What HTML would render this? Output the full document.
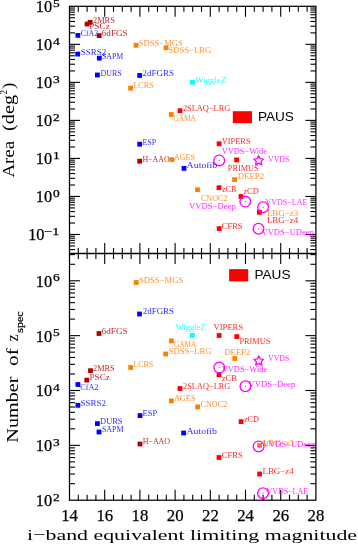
<!DOCTYPE html>
<html><head><meta charset="utf-8"><style>
html,body{margin:0;padding:0;background:#fff;width:358px;height:544px;overflow:hidden}
svg{display:block;will-change:transform}
text{font-family:"Liberation Serif",serif}
.sans{font-family:"Liberation Sans",sans-serif}
.bold{stroke:#000;stroke-width:0.25px}
</style></head><body>
<svg width="358" height="544" viewBox="0 0 358 544">
<rect width="358" height="544" fill="#fff"/>
<rect x="69.50" y="6.30" width="246.40" height="247.20" fill="none" stroke="#000" stroke-width="1.25"/>
<rect x="69.50" y="253.50" width="246.40" height="246.70" fill="none" stroke="#000" stroke-width="1.25"/>
<line x1="78.30" y1="6.30" x2="78.30" y2="11.80" stroke="#000" stroke-width="1.1"/>
<line x1="78.30" y1="253.50" x2="78.30" y2="248.00" stroke="#000" stroke-width="1.1"/>
<line x1="78.30" y1="253.50" x2="78.30" y2="259.00" stroke="#000" stroke-width="1.1"/>
<line x1="78.30" y1="500.20" x2="78.30" y2="494.70" stroke="#000" stroke-width="1.1"/>
<line x1="87.10" y1="6.30" x2="87.10" y2="11.80" stroke="#000" stroke-width="1.1"/>
<line x1="87.10" y1="253.50" x2="87.10" y2="248.00" stroke="#000" stroke-width="1.1"/>
<line x1="87.10" y1="253.50" x2="87.10" y2="259.00" stroke="#000" stroke-width="1.1"/>
<line x1="87.10" y1="500.20" x2="87.10" y2="494.70" stroke="#000" stroke-width="1.1"/>
<line x1="95.90" y1="6.30" x2="95.90" y2="11.80" stroke="#000" stroke-width="1.1"/>
<line x1="95.90" y1="253.50" x2="95.90" y2="248.00" stroke="#000" stroke-width="1.1"/>
<line x1="95.90" y1="253.50" x2="95.90" y2="259.00" stroke="#000" stroke-width="1.1"/>
<line x1="95.90" y1="500.20" x2="95.90" y2="494.70" stroke="#000" stroke-width="1.1"/>
<line x1="104.70" y1="6.30" x2="104.70" y2="16.80" stroke="#000" stroke-width="1.1"/>
<line x1="104.70" y1="253.50" x2="104.70" y2="243.00" stroke="#000" stroke-width="1.1"/>
<line x1="104.70" y1="253.50" x2="104.70" y2="264.00" stroke="#000" stroke-width="1.1"/>
<line x1="104.70" y1="500.20" x2="104.70" y2="489.70" stroke="#000" stroke-width="1.1"/>
<line x1="113.50" y1="6.30" x2="113.50" y2="11.80" stroke="#000" stroke-width="1.1"/>
<line x1="113.50" y1="253.50" x2="113.50" y2="248.00" stroke="#000" stroke-width="1.1"/>
<line x1="113.50" y1="253.50" x2="113.50" y2="259.00" stroke="#000" stroke-width="1.1"/>
<line x1="113.50" y1="500.20" x2="113.50" y2="494.70" stroke="#000" stroke-width="1.1"/>
<line x1="122.30" y1="6.30" x2="122.30" y2="11.80" stroke="#000" stroke-width="1.1"/>
<line x1="122.30" y1="253.50" x2="122.30" y2="248.00" stroke="#000" stroke-width="1.1"/>
<line x1="122.30" y1="253.50" x2="122.30" y2="259.00" stroke="#000" stroke-width="1.1"/>
<line x1="122.30" y1="500.20" x2="122.30" y2="494.70" stroke="#000" stroke-width="1.1"/>
<line x1="131.10" y1="6.30" x2="131.10" y2="11.80" stroke="#000" stroke-width="1.1"/>
<line x1="131.10" y1="253.50" x2="131.10" y2="248.00" stroke="#000" stroke-width="1.1"/>
<line x1="131.10" y1="253.50" x2="131.10" y2="259.00" stroke="#000" stroke-width="1.1"/>
<line x1="131.10" y1="500.20" x2="131.10" y2="494.70" stroke="#000" stroke-width="1.1"/>
<line x1="139.90" y1="6.30" x2="139.90" y2="16.80" stroke="#000" stroke-width="1.1"/>
<line x1="139.90" y1="253.50" x2="139.90" y2="243.00" stroke="#000" stroke-width="1.1"/>
<line x1="139.90" y1="253.50" x2="139.90" y2="264.00" stroke="#000" stroke-width="1.1"/>
<line x1="139.90" y1="500.20" x2="139.90" y2="489.70" stroke="#000" stroke-width="1.1"/>
<line x1="148.70" y1="6.30" x2="148.70" y2="11.80" stroke="#000" stroke-width="1.1"/>
<line x1="148.70" y1="253.50" x2="148.70" y2="248.00" stroke="#000" stroke-width="1.1"/>
<line x1="148.70" y1="253.50" x2="148.70" y2="259.00" stroke="#000" stroke-width="1.1"/>
<line x1="148.70" y1="500.20" x2="148.70" y2="494.70" stroke="#000" stroke-width="1.1"/>
<line x1="157.50" y1="6.30" x2="157.50" y2="11.80" stroke="#000" stroke-width="1.1"/>
<line x1="157.50" y1="253.50" x2="157.50" y2="248.00" stroke="#000" stroke-width="1.1"/>
<line x1="157.50" y1="253.50" x2="157.50" y2="259.00" stroke="#000" stroke-width="1.1"/>
<line x1="157.50" y1="500.20" x2="157.50" y2="494.70" stroke="#000" stroke-width="1.1"/>
<line x1="166.30" y1="6.30" x2="166.30" y2="11.80" stroke="#000" stroke-width="1.1"/>
<line x1="166.30" y1="253.50" x2="166.30" y2="248.00" stroke="#000" stroke-width="1.1"/>
<line x1="166.30" y1="253.50" x2="166.30" y2="259.00" stroke="#000" stroke-width="1.1"/>
<line x1="166.30" y1="500.20" x2="166.30" y2="494.70" stroke="#000" stroke-width="1.1"/>
<line x1="175.10" y1="6.30" x2="175.10" y2="16.80" stroke="#000" stroke-width="1.1"/>
<line x1="175.10" y1="253.50" x2="175.10" y2="243.00" stroke="#000" stroke-width="1.1"/>
<line x1="175.10" y1="253.50" x2="175.10" y2="264.00" stroke="#000" stroke-width="1.1"/>
<line x1="175.10" y1="500.20" x2="175.10" y2="489.70" stroke="#000" stroke-width="1.1"/>
<line x1="183.90" y1="6.30" x2="183.90" y2="11.80" stroke="#000" stroke-width="1.1"/>
<line x1="183.90" y1="253.50" x2="183.90" y2="248.00" stroke="#000" stroke-width="1.1"/>
<line x1="183.90" y1="253.50" x2="183.90" y2="259.00" stroke="#000" stroke-width="1.1"/>
<line x1="183.90" y1="500.20" x2="183.90" y2="494.70" stroke="#000" stroke-width="1.1"/>
<line x1="192.70" y1="6.30" x2="192.70" y2="11.80" stroke="#000" stroke-width="1.1"/>
<line x1="192.70" y1="253.50" x2="192.70" y2="248.00" stroke="#000" stroke-width="1.1"/>
<line x1="192.70" y1="253.50" x2="192.70" y2="259.00" stroke="#000" stroke-width="1.1"/>
<line x1="192.70" y1="500.20" x2="192.70" y2="494.70" stroke="#000" stroke-width="1.1"/>
<line x1="201.50" y1="6.30" x2="201.50" y2="11.80" stroke="#000" stroke-width="1.1"/>
<line x1="201.50" y1="253.50" x2="201.50" y2="248.00" stroke="#000" stroke-width="1.1"/>
<line x1="201.50" y1="253.50" x2="201.50" y2="259.00" stroke="#000" stroke-width="1.1"/>
<line x1="201.50" y1="500.20" x2="201.50" y2="494.70" stroke="#000" stroke-width="1.1"/>
<line x1="210.30" y1="6.30" x2="210.30" y2="16.80" stroke="#000" stroke-width="1.1"/>
<line x1="210.30" y1="253.50" x2="210.30" y2="243.00" stroke="#000" stroke-width="1.1"/>
<line x1="210.30" y1="253.50" x2="210.30" y2="264.00" stroke="#000" stroke-width="1.1"/>
<line x1="210.30" y1="500.20" x2="210.30" y2="489.70" stroke="#000" stroke-width="1.1"/>
<line x1="219.10" y1="6.30" x2="219.10" y2="11.80" stroke="#000" stroke-width="1.1"/>
<line x1="219.10" y1="253.50" x2="219.10" y2="248.00" stroke="#000" stroke-width="1.1"/>
<line x1="219.10" y1="253.50" x2="219.10" y2="259.00" stroke="#000" stroke-width="1.1"/>
<line x1="219.10" y1="500.20" x2="219.10" y2="494.70" stroke="#000" stroke-width="1.1"/>
<line x1="227.90" y1="6.30" x2="227.90" y2="11.80" stroke="#000" stroke-width="1.1"/>
<line x1="227.90" y1="253.50" x2="227.90" y2="248.00" stroke="#000" stroke-width="1.1"/>
<line x1="227.90" y1="253.50" x2="227.90" y2="259.00" stroke="#000" stroke-width="1.1"/>
<line x1="227.90" y1="500.20" x2="227.90" y2="494.70" stroke="#000" stroke-width="1.1"/>
<line x1="236.70" y1="6.30" x2="236.70" y2="11.80" stroke="#000" stroke-width="1.1"/>
<line x1="236.70" y1="253.50" x2="236.70" y2="248.00" stroke="#000" stroke-width="1.1"/>
<line x1="236.70" y1="253.50" x2="236.70" y2="259.00" stroke="#000" stroke-width="1.1"/>
<line x1="236.70" y1="500.20" x2="236.70" y2="494.70" stroke="#000" stroke-width="1.1"/>
<line x1="245.50" y1="6.30" x2="245.50" y2="16.80" stroke="#000" stroke-width="1.1"/>
<line x1="245.50" y1="253.50" x2="245.50" y2="243.00" stroke="#000" stroke-width="1.1"/>
<line x1="245.50" y1="253.50" x2="245.50" y2="264.00" stroke="#000" stroke-width="1.1"/>
<line x1="245.50" y1="500.20" x2="245.50" y2="489.70" stroke="#000" stroke-width="1.1"/>
<line x1="254.30" y1="6.30" x2="254.30" y2="11.80" stroke="#000" stroke-width="1.1"/>
<line x1="254.30" y1="253.50" x2="254.30" y2="248.00" stroke="#000" stroke-width="1.1"/>
<line x1="254.30" y1="253.50" x2="254.30" y2="259.00" stroke="#000" stroke-width="1.1"/>
<line x1="254.30" y1="500.20" x2="254.30" y2="494.70" stroke="#000" stroke-width="1.1"/>
<line x1="263.10" y1="6.30" x2="263.10" y2="11.80" stroke="#000" stroke-width="1.1"/>
<line x1="263.10" y1="253.50" x2="263.10" y2="248.00" stroke="#000" stroke-width="1.1"/>
<line x1="263.10" y1="253.50" x2="263.10" y2="259.00" stroke="#000" stroke-width="1.1"/>
<line x1="263.10" y1="500.20" x2="263.10" y2="494.70" stroke="#000" stroke-width="1.1"/>
<line x1="271.90" y1="6.30" x2="271.90" y2="11.80" stroke="#000" stroke-width="1.1"/>
<line x1="271.90" y1="253.50" x2="271.90" y2="248.00" stroke="#000" stroke-width="1.1"/>
<line x1="271.90" y1="253.50" x2="271.90" y2="259.00" stroke="#000" stroke-width="1.1"/>
<line x1="271.90" y1="500.20" x2="271.90" y2="494.70" stroke="#000" stroke-width="1.1"/>
<line x1="280.70" y1="6.30" x2="280.70" y2="16.80" stroke="#000" stroke-width="1.1"/>
<line x1="280.70" y1="253.50" x2="280.70" y2="243.00" stroke="#000" stroke-width="1.1"/>
<line x1="280.70" y1="253.50" x2="280.70" y2="264.00" stroke="#000" stroke-width="1.1"/>
<line x1="280.70" y1="500.20" x2="280.70" y2="489.70" stroke="#000" stroke-width="1.1"/>
<line x1="289.50" y1="6.30" x2="289.50" y2="11.80" stroke="#000" stroke-width="1.1"/>
<line x1="289.50" y1="253.50" x2="289.50" y2="248.00" stroke="#000" stroke-width="1.1"/>
<line x1="289.50" y1="253.50" x2="289.50" y2="259.00" stroke="#000" stroke-width="1.1"/>
<line x1="289.50" y1="500.20" x2="289.50" y2="494.70" stroke="#000" stroke-width="1.1"/>
<line x1="298.30" y1="6.30" x2="298.30" y2="11.80" stroke="#000" stroke-width="1.1"/>
<line x1="298.30" y1="253.50" x2="298.30" y2="248.00" stroke="#000" stroke-width="1.1"/>
<line x1="298.30" y1="253.50" x2="298.30" y2="259.00" stroke="#000" stroke-width="1.1"/>
<line x1="298.30" y1="500.20" x2="298.30" y2="494.70" stroke="#000" stroke-width="1.1"/>
<line x1="307.10" y1="6.30" x2="307.10" y2="11.80" stroke="#000" stroke-width="1.1"/>
<line x1="307.10" y1="253.50" x2="307.10" y2="248.00" stroke="#000" stroke-width="1.1"/>
<line x1="307.10" y1="253.50" x2="307.10" y2="259.00" stroke="#000" stroke-width="1.1"/>
<line x1="307.10" y1="500.20" x2="307.10" y2="494.70" stroke="#000" stroke-width="1.1"/>
<line x1="69.50" y1="249.61" x2="75.00" y2="249.61" stroke="#000" stroke-width="1.1"/>
<line x1="315.90" y1="249.61" x2="310.40" y2="249.61" stroke="#000" stroke-width="1.1"/>
<line x1="69.50" y1="245.93" x2="75.00" y2="245.93" stroke="#000" stroke-width="1.1"/>
<line x1="315.90" y1="245.93" x2="310.40" y2="245.93" stroke="#000" stroke-width="1.1"/>
<line x1="69.50" y1="242.92" x2="75.00" y2="242.92" stroke="#000" stroke-width="1.1"/>
<line x1="315.90" y1="242.92" x2="310.40" y2="242.92" stroke="#000" stroke-width="1.1"/>
<line x1="69.50" y1="240.37" x2="75.00" y2="240.37" stroke="#000" stroke-width="1.1"/>
<line x1="315.90" y1="240.37" x2="310.40" y2="240.37" stroke="#000" stroke-width="1.1"/>
<line x1="69.50" y1="238.17" x2="75.00" y2="238.17" stroke="#000" stroke-width="1.1"/>
<line x1="315.90" y1="238.17" x2="310.40" y2="238.17" stroke="#000" stroke-width="1.1"/>
<line x1="69.50" y1="236.22" x2="75.00" y2="236.22" stroke="#000" stroke-width="1.1"/>
<line x1="315.90" y1="236.22" x2="310.40" y2="236.22" stroke="#000" stroke-width="1.1"/>
<line x1="69.50" y1="234.48" x2="80.00" y2="234.48" stroke="#000" stroke-width="1.1"/>
<line x1="315.90" y1="234.48" x2="305.40" y2="234.48" stroke="#000" stroke-width="1.1"/>
<line x1="69.50" y1="223.03" x2="75.00" y2="223.03" stroke="#000" stroke-width="1.1"/>
<line x1="315.90" y1="223.03" x2="310.40" y2="223.03" stroke="#000" stroke-width="1.1"/>
<line x1="69.50" y1="216.34" x2="75.00" y2="216.34" stroke="#000" stroke-width="1.1"/>
<line x1="315.90" y1="216.34" x2="310.40" y2="216.34" stroke="#000" stroke-width="1.1"/>
<line x1="69.50" y1="211.58" x2="75.00" y2="211.58" stroke="#000" stroke-width="1.1"/>
<line x1="315.90" y1="211.58" x2="310.40" y2="211.58" stroke="#000" stroke-width="1.1"/>
<line x1="69.50" y1="207.90" x2="75.00" y2="207.90" stroke="#000" stroke-width="1.1"/>
<line x1="315.90" y1="207.90" x2="310.40" y2="207.90" stroke="#000" stroke-width="1.1"/>
<line x1="69.50" y1="204.89" x2="75.00" y2="204.89" stroke="#000" stroke-width="1.1"/>
<line x1="315.90" y1="204.89" x2="310.40" y2="204.89" stroke="#000" stroke-width="1.1"/>
<line x1="69.50" y1="202.34" x2="75.00" y2="202.34" stroke="#000" stroke-width="1.1"/>
<line x1="315.90" y1="202.34" x2="310.40" y2="202.34" stroke="#000" stroke-width="1.1"/>
<line x1="69.50" y1="200.14" x2="75.00" y2="200.14" stroke="#000" stroke-width="1.1"/>
<line x1="315.90" y1="200.14" x2="310.40" y2="200.14" stroke="#000" stroke-width="1.1"/>
<line x1="69.50" y1="198.19" x2="75.00" y2="198.19" stroke="#000" stroke-width="1.1"/>
<line x1="315.90" y1="198.19" x2="310.40" y2="198.19" stroke="#000" stroke-width="1.1"/>
<line x1="69.50" y1="196.45" x2="80.00" y2="196.45" stroke="#000" stroke-width="1.1"/>
<line x1="315.90" y1="196.45" x2="305.40" y2="196.45" stroke="#000" stroke-width="1.1"/>
<line x1="69.50" y1="185.00" x2="75.00" y2="185.00" stroke="#000" stroke-width="1.1"/>
<line x1="315.90" y1="185.00" x2="310.40" y2="185.00" stroke="#000" stroke-width="1.1"/>
<line x1="69.50" y1="178.31" x2="75.00" y2="178.31" stroke="#000" stroke-width="1.1"/>
<line x1="315.90" y1="178.31" x2="310.40" y2="178.31" stroke="#000" stroke-width="1.1"/>
<line x1="69.50" y1="173.55" x2="75.00" y2="173.55" stroke="#000" stroke-width="1.1"/>
<line x1="315.90" y1="173.55" x2="310.40" y2="173.55" stroke="#000" stroke-width="1.1"/>
<line x1="69.50" y1="169.87" x2="75.00" y2="169.87" stroke="#000" stroke-width="1.1"/>
<line x1="315.90" y1="169.87" x2="310.40" y2="169.87" stroke="#000" stroke-width="1.1"/>
<line x1="69.50" y1="166.86" x2="75.00" y2="166.86" stroke="#000" stroke-width="1.1"/>
<line x1="315.90" y1="166.86" x2="310.40" y2="166.86" stroke="#000" stroke-width="1.1"/>
<line x1="69.50" y1="164.31" x2="75.00" y2="164.31" stroke="#000" stroke-width="1.1"/>
<line x1="315.90" y1="164.31" x2="310.40" y2="164.31" stroke="#000" stroke-width="1.1"/>
<line x1="69.50" y1="162.11" x2="75.00" y2="162.11" stroke="#000" stroke-width="1.1"/>
<line x1="315.90" y1="162.11" x2="310.40" y2="162.11" stroke="#000" stroke-width="1.1"/>
<line x1="69.50" y1="160.16" x2="75.00" y2="160.16" stroke="#000" stroke-width="1.1"/>
<line x1="315.90" y1="160.16" x2="310.40" y2="160.16" stroke="#000" stroke-width="1.1"/>
<line x1="69.50" y1="158.42" x2="80.00" y2="158.42" stroke="#000" stroke-width="1.1"/>
<line x1="315.90" y1="158.42" x2="305.40" y2="158.42" stroke="#000" stroke-width="1.1"/>
<line x1="69.50" y1="146.97" x2="75.00" y2="146.97" stroke="#000" stroke-width="1.1"/>
<line x1="315.90" y1="146.97" x2="310.40" y2="146.97" stroke="#000" stroke-width="1.1"/>
<line x1="69.50" y1="140.28" x2="75.00" y2="140.28" stroke="#000" stroke-width="1.1"/>
<line x1="315.90" y1="140.28" x2="310.40" y2="140.28" stroke="#000" stroke-width="1.1"/>
<line x1="69.50" y1="135.52" x2="75.00" y2="135.52" stroke="#000" stroke-width="1.1"/>
<line x1="315.90" y1="135.52" x2="310.40" y2="135.52" stroke="#000" stroke-width="1.1"/>
<line x1="69.50" y1="131.84" x2="75.00" y2="131.84" stroke="#000" stroke-width="1.1"/>
<line x1="315.90" y1="131.84" x2="310.40" y2="131.84" stroke="#000" stroke-width="1.1"/>
<line x1="69.50" y1="128.83" x2="75.00" y2="128.83" stroke="#000" stroke-width="1.1"/>
<line x1="315.90" y1="128.83" x2="310.40" y2="128.83" stroke="#000" stroke-width="1.1"/>
<line x1="69.50" y1="126.28" x2="75.00" y2="126.28" stroke="#000" stroke-width="1.1"/>
<line x1="315.90" y1="126.28" x2="310.40" y2="126.28" stroke="#000" stroke-width="1.1"/>
<line x1="69.50" y1="124.08" x2="75.00" y2="124.08" stroke="#000" stroke-width="1.1"/>
<line x1="315.90" y1="124.08" x2="310.40" y2="124.08" stroke="#000" stroke-width="1.1"/>
<line x1="69.50" y1="122.13" x2="75.00" y2="122.13" stroke="#000" stroke-width="1.1"/>
<line x1="315.90" y1="122.13" x2="310.40" y2="122.13" stroke="#000" stroke-width="1.1"/>
<line x1="69.50" y1="120.39" x2="80.00" y2="120.39" stroke="#000" stroke-width="1.1"/>
<line x1="315.90" y1="120.39" x2="305.40" y2="120.39" stroke="#000" stroke-width="1.1"/>
<line x1="69.50" y1="108.94" x2="75.00" y2="108.94" stroke="#000" stroke-width="1.1"/>
<line x1="315.90" y1="108.94" x2="310.40" y2="108.94" stroke="#000" stroke-width="1.1"/>
<line x1="69.50" y1="102.25" x2="75.00" y2="102.25" stroke="#000" stroke-width="1.1"/>
<line x1="315.90" y1="102.25" x2="310.40" y2="102.25" stroke="#000" stroke-width="1.1"/>
<line x1="69.50" y1="97.49" x2="75.00" y2="97.49" stroke="#000" stroke-width="1.1"/>
<line x1="315.90" y1="97.49" x2="310.40" y2="97.49" stroke="#000" stroke-width="1.1"/>
<line x1="69.50" y1="93.81" x2="75.00" y2="93.81" stroke="#000" stroke-width="1.1"/>
<line x1="315.90" y1="93.81" x2="310.40" y2="93.81" stroke="#000" stroke-width="1.1"/>
<line x1="69.50" y1="90.80" x2="75.00" y2="90.80" stroke="#000" stroke-width="1.1"/>
<line x1="315.90" y1="90.80" x2="310.40" y2="90.80" stroke="#000" stroke-width="1.1"/>
<line x1="69.50" y1="88.25" x2="75.00" y2="88.25" stroke="#000" stroke-width="1.1"/>
<line x1="315.90" y1="88.25" x2="310.40" y2="88.25" stroke="#000" stroke-width="1.1"/>
<line x1="69.50" y1="86.05" x2="75.00" y2="86.05" stroke="#000" stroke-width="1.1"/>
<line x1="315.90" y1="86.05" x2="310.40" y2="86.05" stroke="#000" stroke-width="1.1"/>
<line x1="69.50" y1="84.10" x2="75.00" y2="84.10" stroke="#000" stroke-width="1.1"/>
<line x1="315.90" y1="84.10" x2="310.40" y2="84.10" stroke="#000" stroke-width="1.1"/>
<line x1="69.50" y1="82.36" x2="80.00" y2="82.36" stroke="#000" stroke-width="1.1"/>
<line x1="315.90" y1="82.36" x2="305.40" y2="82.36" stroke="#000" stroke-width="1.1"/>
<line x1="69.50" y1="70.91" x2="75.00" y2="70.91" stroke="#000" stroke-width="1.1"/>
<line x1="315.90" y1="70.91" x2="310.40" y2="70.91" stroke="#000" stroke-width="1.1"/>
<line x1="69.50" y1="64.22" x2="75.00" y2="64.22" stroke="#000" stroke-width="1.1"/>
<line x1="315.90" y1="64.22" x2="310.40" y2="64.22" stroke="#000" stroke-width="1.1"/>
<line x1="69.50" y1="59.46" x2="75.00" y2="59.46" stroke="#000" stroke-width="1.1"/>
<line x1="315.90" y1="59.46" x2="310.40" y2="59.46" stroke="#000" stroke-width="1.1"/>
<line x1="69.50" y1="55.78" x2="75.00" y2="55.78" stroke="#000" stroke-width="1.1"/>
<line x1="315.90" y1="55.78" x2="310.40" y2="55.78" stroke="#000" stroke-width="1.1"/>
<line x1="69.50" y1="52.77" x2="75.00" y2="52.77" stroke="#000" stroke-width="1.1"/>
<line x1="315.90" y1="52.77" x2="310.40" y2="52.77" stroke="#000" stroke-width="1.1"/>
<line x1="69.50" y1="50.22" x2="75.00" y2="50.22" stroke="#000" stroke-width="1.1"/>
<line x1="315.90" y1="50.22" x2="310.40" y2="50.22" stroke="#000" stroke-width="1.1"/>
<line x1="69.50" y1="48.02" x2="75.00" y2="48.02" stroke="#000" stroke-width="1.1"/>
<line x1="315.90" y1="48.02" x2="310.40" y2="48.02" stroke="#000" stroke-width="1.1"/>
<line x1="69.50" y1="46.07" x2="75.00" y2="46.07" stroke="#000" stroke-width="1.1"/>
<line x1="315.90" y1="46.07" x2="310.40" y2="46.07" stroke="#000" stroke-width="1.1"/>
<line x1="69.50" y1="44.33" x2="80.00" y2="44.33" stroke="#000" stroke-width="1.1"/>
<line x1="315.90" y1="44.33" x2="305.40" y2="44.33" stroke="#000" stroke-width="1.1"/>
<line x1="69.50" y1="32.88" x2="75.00" y2="32.88" stroke="#000" stroke-width="1.1"/>
<line x1="315.90" y1="32.88" x2="310.40" y2="32.88" stroke="#000" stroke-width="1.1"/>
<line x1="69.50" y1="26.19" x2="75.00" y2="26.19" stroke="#000" stroke-width="1.1"/>
<line x1="315.90" y1="26.19" x2="310.40" y2="26.19" stroke="#000" stroke-width="1.1"/>
<line x1="69.50" y1="21.43" x2="75.00" y2="21.43" stroke="#000" stroke-width="1.1"/>
<line x1="315.90" y1="21.43" x2="310.40" y2="21.43" stroke="#000" stroke-width="1.1"/>
<line x1="69.50" y1="17.75" x2="75.00" y2="17.75" stroke="#000" stroke-width="1.1"/>
<line x1="315.90" y1="17.75" x2="310.40" y2="17.75" stroke="#000" stroke-width="1.1"/>
<line x1="69.50" y1="14.74" x2="75.00" y2="14.74" stroke="#000" stroke-width="1.1"/>
<line x1="315.90" y1="14.74" x2="310.40" y2="14.74" stroke="#000" stroke-width="1.1"/>
<line x1="69.50" y1="12.19" x2="75.00" y2="12.19" stroke="#000" stroke-width="1.1"/>
<line x1="315.90" y1="12.19" x2="310.40" y2="12.19" stroke="#000" stroke-width="1.1"/>
<line x1="69.50" y1="9.99" x2="75.00" y2="9.99" stroke="#000" stroke-width="1.1"/>
<line x1="315.90" y1="9.99" x2="310.40" y2="9.99" stroke="#000" stroke-width="1.1"/>
<line x1="69.50" y1="8.04" x2="75.00" y2="8.04" stroke="#000" stroke-width="1.1"/>
<line x1="315.90" y1="8.04" x2="310.40" y2="8.04" stroke="#000" stroke-width="1.1"/>
<line x1="69.50" y1="483.69" x2="75.00" y2="483.69" stroke="#000" stroke-width="1.1"/>
<line x1="315.90" y1="483.69" x2="310.40" y2="483.69" stroke="#000" stroke-width="1.1"/>
<line x1="69.50" y1="474.03" x2="75.00" y2="474.03" stroke="#000" stroke-width="1.1"/>
<line x1="315.90" y1="474.03" x2="310.40" y2="474.03" stroke="#000" stroke-width="1.1"/>
<line x1="69.50" y1="467.18" x2="75.00" y2="467.18" stroke="#000" stroke-width="1.1"/>
<line x1="315.90" y1="467.18" x2="310.40" y2="467.18" stroke="#000" stroke-width="1.1"/>
<line x1="69.50" y1="461.86" x2="75.00" y2="461.86" stroke="#000" stroke-width="1.1"/>
<line x1="315.90" y1="461.86" x2="310.40" y2="461.86" stroke="#000" stroke-width="1.1"/>
<line x1="69.50" y1="457.52" x2="75.00" y2="457.52" stroke="#000" stroke-width="1.1"/>
<line x1="315.90" y1="457.52" x2="310.40" y2="457.52" stroke="#000" stroke-width="1.1"/>
<line x1="69.50" y1="453.85" x2="75.00" y2="453.85" stroke="#000" stroke-width="1.1"/>
<line x1="315.90" y1="453.85" x2="310.40" y2="453.85" stroke="#000" stroke-width="1.1"/>
<line x1="69.50" y1="450.67" x2="75.00" y2="450.67" stroke="#000" stroke-width="1.1"/>
<line x1="315.90" y1="450.67" x2="310.40" y2="450.67" stroke="#000" stroke-width="1.1"/>
<line x1="69.50" y1="447.86" x2="75.00" y2="447.86" stroke="#000" stroke-width="1.1"/>
<line x1="315.90" y1="447.86" x2="310.40" y2="447.86" stroke="#000" stroke-width="1.1"/>
<line x1="69.50" y1="445.35" x2="80.00" y2="445.35" stroke="#000" stroke-width="1.1"/>
<line x1="315.90" y1="445.35" x2="305.40" y2="445.35" stroke="#000" stroke-width="1.1"/>
<line x1="69.50" y1="428.84" x2="75.00" y2="428.84" stroke="#000" stroke-width="1.1"/>
<line x1="315.90" y1="428.84" x2="310.40" y2="428.84" stroke="#000" stroke-width="1.1"/>
<line x1="69.50" y1="419.18" x2="75.00" y2="419.18" stroke="#000" stroke-width="1.1"/>
<line x1="315.90" y1="419.18" x2="310.40" y2="419.18" stroke="#000" stroke-width="1.1"/>
<line x1="69.50" y1="412.33" x2="75.00" y2="412.33" stroke="#000" stroke-width="1.1"/>
<line x1="315.90" y1="412.33" x2="310.40" y2="412.33" stroke="#000" stroke-width="1.1"/>
<line x1="69.50" y1="407.01" x2="75.00" y2="407.01" stroke="#000" stroke-width="1.1"/>
<line x1="315.90" y1="407.01" x2="310.40" y2="407.01" stroke="#000" stroke-width="1.1"/>
<line x1="69.50" y1="402.67" x2="75.00" y2="402.67" stroke="#000" stroke-width="1.1"/>
<line x1="315.90" y1="402.67" x2="310.40" y2="402.67" stroke="#000" stroke-width="1.1"/>
<line x1="69.50" y1="399.00" x2="75.00" y2="399.00" stroke="#000" stroke-width="1.1"/>
<line x1="315.90" y1="399.00" x2="310.40" y2="399.00" stroke="#000" stroke-width="1.1"/>
<line x1="69.50" y1="395.82" x2="75.00" y2="395.82" stroke="#000" stroke-width="1.1"/>
<line x1="315.90" y1="395.82" x2="310.40" y2="395.82" stroke="#000" stroke-width="1.1"/>
<line x1="69.50" y1="393.01" x2="75.00" y2="393.01" stroke="#000" stroke-width="1.1"/>
<line x1="315.90" y1="393.01" x2="310.40" y2="393.01" stroke="#000" stroke-width="1.1"/>
<line x1="69.50" y1="390.50" x2="80.00" y2="390.50" stroke="#000" stroke-width="1.1"/>
<line x1="315.90" y1="390.50" x2="305.40" y2="390.50" stroke="#000" stroke-width="1.1"/>
<line x1="69.50" y1="373.99" x2="75.00" y2="373.99" stroke="#000" stroke-width="1.1"/>
<line x1="315.90" y1="373.99" x2="310.40" y2="373.99" stroke="#000" stroke-width="1.1"/>
<line x1="69.50" y1="364.33" x2="75.00" y2="364.33" stroke="#000" stroke-width="1.1"/>
<line x1="315.90" y1="364.33" x2="310.40" y2="364.33" stroke="#000" stroke-width="1.1"/>
<line x1="69.50" y1="357.48" x2="75.00" y2="357.48" stroke="#000" stroke-width="1.1"/>
<line x1="315.90" y1="357.48" x2="310.40" y2="357.48" stroke="#000" stroke-width="1.1"/>
<line x1="69.50" y1="352.16" x2="75.00" y2="352.16" stroke="#000" stroke-width="1.1"/>
<line x1="315.90" y1="352.16" x2="310.40" y2="352.16" stroke="#000" stroke-width="1.1"/>
<line x1="69.50" y1="347.82" x2="75.00" y2="347.82" stroke="#000" stroke-width="1.1"/>
<line x1="315.90" y1="347.82" x2="310.40" y2="347.82" stroke="#000" stroke-width="1.1"/>
<line x1="69.50" y1="344.15" x2="75.00" y2="344.15" stroke="#000" stroke-width="1.1"/>
<line x1="315.90" y1="344.15" x2="310.40" y2="344.15" stroke="#000" stroke-width="1.1"/>
<line x1="69.50" y1="340.97" x2="75.00" y2="340.97" stroke="#000" stroke-width="1.1"/>
<line x1="315.90" y1="340.97" x2="310.40" y2="340.97" stroke="#000" stroke-width="1.1"/>
<line x1="69.50" y1="338.16" x2="75.00" y2="338.16" stroke="#000" stroke-width="1.1"/>
<line x1="315.90" y1="338.16" x2="310.40" y2="338.16" stroke="#000" stroke-width="1.1"/>
<line x1="69.50" y1="335.65" x2="80.00" y2="335.65" stroke="#000" stroke-width="1.1"/>
<line x1="315.90" y1="335.65" x2="305.40" y2="335.65" stroke="#000" stroke-width="1.1"/>
<line x1="69.50" y1="319.14" x2="75.00" y2="319.14" stroke="#000" stroke-width="1.1"/>
<line x1="315.90" y1="319.14" x2="310.40" y2="319.14" stroke="#000" stroke-width="1.1"/>
<line x1="69.50" y1="309.48" x2="75.00" y2="309.48" stroke="#000" stroke-width="1.1"/>
<line x1="315.90" y1="309.48" x2="310.40" y2="309.48" stroke="#000" stroke-width="1.1"/>
<line x1="69.50" y1="302.63" x2="75.00" y2="302.63" stroke="#000" stroke-width="1.1"/>
<line x1="315.90" y1="302.63" x2="310.40" y2="302.63" stroke="#000" stroke-width="1.1"/>
<line x1="69.50" y1="297.31" x2="75.00" y2="297.31" stroke="#000" stroke-width="1.1"/>
<line x1="315.90" y1="297.31" x2="310.40" y2="297.31" stroke="#000" stroke-width="1.1"/>
<line x1="69.50" y1="292.97" x2="75.00" y2="292.97" stroke="#000" stroke-width="1.1"/>
<line x1="315.90" y1="292.97" x2="310.40" y2="292.97" stroke="#000" stroke-width="1.1"/>
<line x1="69.50" y1="289.30" x2="75.00" y2="289.30" stroke="#000" stroke-width="1.1"/>
<line x1="315.90" y1="289.30" x2="310.40" y2="289.30" stroke="#000" stroke-width="1.1"/>
<line x1="69.50" y1="286.12" x2="75.00" y2="286.12" stroke="#000" stroke-width="1.1"/>
<line x1="315.90" y1="286.12" x2="310.40" y2="286.12" stroke="#000" stroke-width="1.1"/>
<line x1="69.50" y1="283.31" x2="75.00" y2="283.31" stroke="#000" stroke-width="1.1"/>
<line x1="315.90" y1="283.31" x2="310.40" y2="283.31" stroke="#000" stroke-width="1.1"/>
<line x1="69.50" y1="280.80" x2="80.00" y2="280.80" stroke="#000" stroke-width="1.1"/>
<line x1="315.90" y1="280.80" x2="305.40" y2="280.80" stroke="#000" stroke-width="1.1"/>
<line x1="69.50" y1="264.29" x2="75.00" y2="264.29" stroke="#000" stroke-width="1.1"/>
<line x1="315.90" y1="264.29" x2="310.40" y2="264.29" stroke="#000" stroke-width="1.1"/>
<line x1="69.50" y1="254.63" x2="75.00" y2="254.63" stroke="#000" stroke-width="1.1"/>
<line x1="315.90" y1="254.63" x2="310.40" y2="254.63" stroke="#000" stroke-width="1.1"/>
<text x="35.80" y="12.20" font-size="16.5" textLength="16.3" lengthAdjust="spacingAndGlyphs" class="bold">10</text>
<text x="52.90" y="6.90" font-size="10" textLength="6.7" lengthAdjust="spacingAndGlyphs" class="bold">5</text>
<text x="35.80" y="50.23" font-size="16.5" textLength="16.3" lengthAdjust="spacingAndGlyphs" class="bold">10</text>
<text x="52.90" y="44.93" font-size="10" textLength="6.7" lengthAdjust="spacingAndGlyphs" class="bold">4</text>
<text x="35.80" y="88.26" font-size="16.5" textLength="16.3" lengthAdjust="spacingAndGlyphs" class="bold">10</text>
<text x="52.90" y="82.96" font-size="10" textLength="6.7" lengthAdjust="spacingAndGlyphs" class="bold">3</text>
<text x="35.80" y="126.29" font-size="16.5" textLength="16.3" lengthAdjust="spacingAndGlyphs" class="bold">10</text>
<text x="52.90" y="120.99" font-size="10" textLength="6.7" lengthAdjust="spacingAndGlyphs" class="bold">2</text>
<text x="35.80" y="164.32" font-size="16.5" textLength="16.3" lengthAdjust="spacingAndGlyphs" class="bold">10</text>
<text x="52.90" y="159.02" font-size="10" textLength="6.7" lengthAdjust="spacingAndGlyphs" class="bold">1</text>
<text x="35.80" y="202.35" font-size="16.5" textLength="16.3" lengthAdjust="spacingAndGlyphs" class="bold">10</text>
<text x="52.90" y="197.05" font-size="10" textLength="6.7" lengthAdjust="spacingAndGlyphs" class="bold">0</text>
<text x="28.20" y="240.38" font-size="16.5" textLength="16.3" lengthAdjust="spacingAndGlyphs" class="bold">10</text>
<text x="44.30" y="235.08" font-size="10" textLength="15.1" lengthAdjust="spacingAndGlyphs" class="bold">−1</text>
<text x="35.80" y="286.70" font-size="16.5" textLength="16.3" lengthAdjust="spacingAndGlyphs" class="bold">10</text>
<text x="52.90" y="281.40" font-size="10" textLength="6.7" lengthAdjust="spacingAndGlyphs" class="bold">6</text>
<text x="35.80" y="341.55" font-size="16.5" textLength="16.3" lengthAdjust="spacingAndGlyphs" class="bold">10</text>
<text x="52.90" y="336.25" font-size="10" textLength="6.7" lengthAdjust="spacingAndGlyphs" class="bold">5</text>
<text x="35.80" y="396.40" font-size="16.5" textLength="16.3" lengthAdjust="spacingAndGlyphs" class="bold">10</text>
<text x="52.90" y="391.10" font-size="10" textLength="6.7" lengthAdjust="spacingAndGlyphs" class="bold">4</text>
<text x="35.80" y="451.25" font-size="16.5" textLength="16.3" lengthAdjust="spacingAndGlyphs" class="bold">10</text>
<text x="52.90" y="445.95" font-size="10" textLength="6.7" lengthAdjust="spacingAndGlyphs" class="bold">3</text>
<text x="35.80" y="506.10" font-size="16.5" textLength="16.3" lengthAdjust="spacingAndGlyphs" class="bold">10</text>
<text x="52.90" y="500.80" font-size="10" textLength="6.7" lengthAdjust="spacingAndGlyphs" class="bold">2</text>
<text x="61.20" y="520.9" font-size="17.4" textLength="16.8" lengthAdjust="spacingAndGlyphs" class="bold">14</text>
<text x="96.40" y="520.9" font-size="17.4" textLength="16.8" lengthAdjust="spacingAndGlyphs" class="bold">16</text>
<text x="131.60" y="520.9" font-size="17.4" textLength="16.8" lengthAdjust="spacingAndGlyphs" class="bold">18</text>
<text x="166.80" y="520.9" font-size="17.4" textLength="16.8" lengthAdjust="spacingAndGlyphs" class="bold">20</text>
<text x="202.00" y="520.9" font-size="17.4" textLength="16.8" lengthAdjust="spacingAndGlyphs" class="bold">22</text>
<text x="237.20" y="520.9" font-size="17.4" textLength="16.8" lengthAdjust="spacingAndGlyphs" class="bold">24</text>
<text x="272.40" y="520.9" font-size="17.4" textLength="16.8" lengthAdjust="spacingAndGlyphs" class="bold">26</text>
<text x="307.60" y="520.9" font-size="17.4" textLength="16.8" lengthAdjust="spacingAndGlyphs" class="bold">28</text>
<text x="27.1" y="540.2" font-size="15.5" textLength="330" lengthAdjust="spacingAndGlyphs">i−band equivalent limiting magnitude</text>
<text transform="translate(13.90,177.60) rotate(-90)" x="0" y="0" font-size="16.5" textLength="36.70" lengthAdjust="spacingAndGlyphs">Area</text>
<text transform="translate(13.90,130.90) rotate(-90)" x="0" y="0" font-size="16.5" textLength="35.90" lengthAdjust="spacingAndGlyphs">(deg</text>
<text transform="translate(7.40,94.40) rotate(-90)" x="0" y="0" font-size="10" textLength="4.50" lengthAdjust="spacingAndGlyphs">2</text>
<text transform="translate(13.90,88.90) rotate(-90)" x="0" y="0" font-size="16.5" textLength="6.40" lengthAdjust="spacingAndGlyphs">)</text>
<text transform="translate(18.20,442.70) rotate(-90)" x="0" y="0" font-size="16.8" textLength="66.30" lengthAdjust="spacingAndGlyphs">Number</text>
<text transform="translate(18.20,365.90) rotate(-90)" x="0" y="0" font-size="16.8" textLength="17.60" lengthAdjust="spacingAndGlyphs">of</text>
<text transform="translate(18.20,341.60) rotate(-90)" x="0" y="0" font-size="16.8" textLength="7.10" lengthAdjust="spacingAndGlyphs">z</text>
<text transform="translate(23.30,332.80) rotate(-90)" x="0" y="0" font-size="10.5" textLength="21.40" lengthAdjust="spacingAndGlyphs" class="bold">spec</text>
<rect x="84.70" y="21.65" width="4.8" height="4.8" fill="#b00000"/>
<rect x="87.75" y="19.95" width="4.8" height="4.8" fill="#b00000"/>
<rect x="96.80" y="33.20" width="4.8" height="4.8" fill="#b00000"/>
<rect x="75.50" y="33.00" width="4.8" height="4.8" fill="#0000ff"/>
<rect x="75.30" y="51.70" width="4.8" height="4.8" fill="#0000ff"/>
<rect x="96.90" y="55.80" width="4.8" height="4.8" fill="#0000ff"/>
<rect x="95.00" y="72.60" width="4.8" height="4.8" fill="#0000ff"/>
<rect x="137.30" y="73.10" width="4.8" height="4.8" fill="#0000ff"/>
<rect x="133.70" y="42.90" width="4.8" height="4.8" fill="#ff7f00"/>
<rect x="163.60" y="45.40" width="4.8" height="4.8" fill="#ff7f00"/>
<rect x="128.20" y="85.80" width="4.8" height="4.8" fill="#ff7f00"/>
<rect x="190.05" y="79.95" width="4.8" height="4.8" fill="#00ffff"/>
<rect x="137.30" y="141.80" width="4.8" height="4.8" fill="#0000ff"/>
<rect x="137.30" y="158.80" width="4.8" height="4.8" fill="#b00000"/>
<rect x="177.60" y="108.30" width="4.8" height="4.8" fill="#ff0000"/>
<rect x="168.90" y="112.10" width="4.8" height="4.8" fill="#ff7f00"/>
<rect x="169.60" y="157.30" width="4.8" height="4.8" fill="#ff7f00"/>
<rect x="181.60" y="166.00" width="4.8" height="4.8" fill="#0000ff"/>
<rect x="216.70" y="141.40" width="4.8" height="4.8" fill="#ff0000"/>
<rect x="234.20" y="157.50" width="4.8" height="4.8" fill="#ff0000"/>
<rect x="232.20" y="177.20" width="4.8" height="4.8" fill="#ff7f00"/>
<rect x="216.60" y="185.30" width="4.8" height="4.8" fill="#ff0000"/>
<rect x="238.60" y="194.10" width="4.8" height="4.8" fill="#ff0000"/>
<rect x="195.10" y="187.30" width="4.8" height="4.8" fill="#ff7f00"/>
<rect x="257.00" y="209.90" width="4.8" height="4.8" fill="#ff0000"/>
<rect x="216.80" y="226.20" width="4.8" height="4.8" fill="#ff0000"/>
<circle cx="219.20" cy="160.40" r="5.35" fill="none" stroke="#ff00ff" stroke-width="1.3"/>
<circle cx="219.20" cy="160.40" r="0.6" fill="#ff00ff"/>
<circle cx="245.30" cy="201.60" r="5.35" fill="none" stroke="#ff00ff" stroke-width="1.3"/>
<circle cx="245.30" cy="201.60" r="0.6" fill="#ff00ff"/>
<circle cx="263.10" cy="207.20" r="5.35" fill="none" stroke="#ff00ff" stroke-width="1.3"/>
<circle cx="263.10" cy="207.20" r="0.6" fill="#ff00ff"/>
<circle cx="258.50" cy="228.80" r="5.35" fill="none" stroke="#ff00ff" stroke-width="1.3"/>
<circle cx="258.50" cy="228.80" r="0.6" fill="#ff00ff"/>
<polygon points="258.65,155.60 260.09,158.72 263.50,159.12 260.98,161.46 261.65,164.83 258.65,163.15 255.65,164.83 256.32,161.46 253.80,159.12 257.21,158.72" fill="none" stroke="#ff00ff" stroke-width="1.3" stroke-linejoin="round"/>
<text x="93.00" y="22.90" font-size="8.2" fill="#b00000" fill-opacity="0.85" textLength="21.80" lengthAdjust="spacingAndGlyphs">2MRS</text>
<text x="89.20" y="29.30" font-size="8.2" fill="#b00000" fill-opacity="0.85" textLength="20.60" lengthAdjust="spacingAndGlyphs">PSCz</text>
<text x="101.80" y="36.30" font-size="8.2" fill="#b00000" fill-opacity="0.85" textLength="25.90" lengthAdjust="spacingAndGlyphs">6dFGS</text>
<text x="80.70" y="36.20" font-size="8.2" fill="#0000ff" fill-opacity="0.85" textLength="17.50" lengthAdjust="spacingAndGlyphs">CfA2</text>
<text x="80.70" y="54.60" font-size="8.2" fill="#0000ff" fill-opacity="0.85" textLength="25.70" lengthAdjust="spacingAndGlyphs">SSRS2</text>
<text x="101.90" y="59.00" font-size="8.2" fill="#0000ff" fill-opacity="0.85" textLength="21.30" lengthAdjust="spacingAndGlyphs">SAPM</text>
<text x="100.60" y="75.80" font-size="8.2" fill="#0000ff" fill-opacity="0.85" textLength="21.20" lengthAdjust="spacingAndGlyphs">DURS</text>
<text x="142.60" y="75.90" font-size="8.2" fill="#0000ff" fill-opacity="0.85" textLength="31.50" lengthAdjust="spacingAndGlyphs">2dFGRS</text>
<text x="138.60" y="45.60" font-size="8.2" fill="#ff7f00" fill-opacity="0.85" textLength="44.30" lengthAdjust="spacingAndGlyphs">SDSS−MGS</text>
<text x="168.30" y="53.00" font-size="8.2" fill="#ff7f00" fill-opacity="0.85" textLength="43.00" lengthAdjust="spacingAndGlyphs">SDSS−LRG</text>
<text x="133.40" y="88.20" font-size="8.2" fill="#ff7f00" fill-opacity="0.85" textLength="20.40" lengthAdjust="spacingAndGlyphs">LCRS</text>
<text x="195.20" y="83.10" font-size="8.2" fill="#00ffff" fill-opacity="0.85" textLength="31.20" lengthAdjust="spacingAndGlyphs">WiggleZ</text>
<text x="142.40" y="144.70" font-size="8.2" fill="#0000ff" fill-opacity="0.85" textLength="13.80" lengthAdjust="spacingAndGlyphs">ESP</text>
<text x="142.40" y="162.30" font-size="8.2" fill="#b00000" fill-opacity="0.85" textLength="27.30" lengthAdjust="spacingAndGlyphs">H−AAO</text>
<text x="182.90" y="111.30" font-size="8.2" fill="#ff0000" fill-opacity="0.85" textLength="47.40" lengthAdjust="spacingAndGlyphs">2SLAQ−LRG</text>
<text x="173.50" y="121.10" font-size="8.2" fill="#ff7f00" fill-opacity="0.85" textLength="22.40" lengthAdjust="spacingAndGlyphs">GAMA</text>
<text x="174.10" y="159.90" font-size="8.2" fill="#ff7f00" fill-opacity="0.85" textLength="20.70" lengthAdjust="spacingAndGlyphs">AGES</text>
<text x="186.60" y="168.30" font-size="8.2" fill="#0000ff" fill-opacity="0.85" textLength="30.70" lengthAdjust="spacingAndGlyphs">Autofib</text>
<text x="221.80" y="144.20" font-size="8.2" fill="#ff0000" fill-opacity="0.85" textLength="28.80" lengthAdjust="spacingAndGlyphs">VIPERS</text>
<text x="221.80" y="154.10" font-size="8.2" fill="#ff00ff" fill-opacity="0.85" textLength="45.10" lengthAdjust="spacingAndGlyphs">VVDS−Wide</text>
<text x="227.80" y="171.30" font-size="8.2" fill="#ff0000" fill-opacity="0.85" textLength="30.90" lengthAdjust="spacingAndGlyphs">PRIMUS</text>
<text x="268.00" y="161.90" font-size="8.2" fill="#ff00ff" fill-opacity="0.85" textLength="21.30" lengthAdjust="spacingAndGlyphs">VVDS</text>
<text x="237.80" y="179.30" font-size="8.2" fill="#ff7f00" fill-opacity="0.85" textLength="26.20" lengthAdjust="spacingAndGlyphs">DEEP2</text>
<text x="221.90" y="192.30" font-size="8.2" fill="#ff0000" fill-opacity="0.85" textLength="14.60" lengthAdjust="spacingAndGlyphs">zCB</text>
<text x="243.40" y="193.80" font-size="8.2" fill="#ff0000" fill-opacity="0.85" textLength="15.40" lengthAdjust="spacingAndGlyphs">zCD</text>
<text x="200.90" y="200.50" font-size="8.2" fill="#ff7f00" fill-opacity="0.85" textLength="26.60" lengthAdjust="spacingAndGlyphs">CNOC2</text>
<text x="189.10" y="208.60" font-size="8.2" fill="#ff00ff" fill-opacity="0.85" textLength="46.70" lengthAdjust="spacingAndGlyphs">VVDS−Deep</text>
<text x="265.60" y="205.10" font-size="8.2" fill="#ff00ff" fill-opacity="0.85" textLength="41.70" lengthAdjust="spacingAndGlyphs">VVDS−LAE</text>
<text x="266.90" y="215.50" font-size="8.2" fill="#ff7f00" fill-opacity="0.85" textLength="31.40" lengthAdjust="spacingAndGlyphs">LBG−z3</text>
<text x="266.90" y="222.70" font-size="8.2" fill="#ff0000" fill-opacity="0.85" textLength="31.40" lengthAdjust="spacingAndGlyphs">LBG−z4</text>
<text x="221.80" y="229.40" font-size="8.2" fill="#ff0000" fill-opacity="0.85" textLength="20.80" lengthAdjust="spacingAndGlyphs">CFRS</text>
<text x="261.50" y="234.60" font-size="8.2" fill="#ff00ff" fill-opacity="0.85" textLength="52.40" lengthAdjust="spacingAndGlyphs">VVDS−UDeep</text>
<rect x="232.8" y="111.2" width="19.2" height="12" fill="#ff0000"/>
<text x="257.9" y="120.9" font-size="12.6" class="sans" textLength="36.0" lengthAdjust="spacingAndGlyphs">PAUS</text>
<rect x="133.80" y="280.10" width="4.8" height="4.8" fill="#ff7f00"/>
<rect x="137.10" y="311.60" width="4.8" height="4.8" fill="#0000ff"/>
<rect x="96.60" y="331.10" width="4.8" height="4.8" fill="#b00000"/>
<rect x="189.90" y="333.00" width="4.8" height="4.8" fill="#00ffff"/>
<rect x="216.70" y="333.10" width="4.8" height="4.8" fill="#ff0000"/>
<rect x="234.40" y="334.20" width="4.8" height="4.8" fill="#ff0000"/>
<rect x="169.00" y="338.50" width="4.8" height="4.8" fill="#ff7f00"/>
<rect x="163.20" y="351.60" width="4.8" height="4.8" fill="#ff7f00"/>
<rect x="88.10" y="368.30" width="4.8" height="4.8" fill="#b00000"/>
<rect x="84.40" y="377.70" width="4.8" height="4.8" fill="#b00000"/>
<rect x="75.50" y="382.10" width="4.8" height="4.8" fill="#0000ff"/>
<rect x="75.50" y="402.90" width="4.8" height="4.8" fill="#0000ff"/>
<rect x="128.30" y="365.10" width="4.8" height="4.8" fill="#ff7f00"/>
<rect x="137.60" y="413.20" width="4.8" height="4.8" fill="#0000ff"/>
<rect x="95.00" y="421.20" width="4.8" height="4.8" fill="#0000ff"/>
<rect x="96.60" y="429.60" width="4.8" height="4.8" fill="#0000ff"/>
<rect x="137.60" y="441.60" width="4.8" height="4.8" fill="#b00000"/>
<rect x="232.40" y="356.10" width="4.8" height="4.8" fill="#ff7f00"/>
<rect x="216.60" y="372.40" width="4.8" height="4.8" fill="#ff0000"/>
<rect x="177.60" y="386.10" width="4.8" height="4.8" fill="#ff0000"/>
<rect x="169.00" y="398.50" width="4.8" height="4.8" fill="#ff7f00"/>
<rect x="195.20" y="404.50" width="4.8" height="4.8" fill="#ff7f00"/>
<rect x="238.70" y="419.20" width="4.8" height="4.8" fill="#ff0000"/>
<rect x="216.60" y="455.10" width="4.8" height="4.8" fill="#ff0000"/>
<rect x="257.20" y="443.00" width="4.8" height="4.8" fill="#ff7f00"/>
<rect x="257.20" y="471.60" width="4.8" height="4.8" fill="#ff0000"/>
<rect x="181.20" y="430.60" width="4.8" height="4.8" fill="#0000ff"/>
<circle cx="219.30" cy="367.60" r="5.35" fill="none" stroke="#ff00ff" stroke-width="1.3"/>
<circle cx="219.30" cy="367.60" r="0.6" fill="#ff00ff"/>
<circle cx="245.40" cy="386.20" r="5.35" fill="none" stroke="#ff00ff" stroke-width="1.3"/>
<circle cx="245.40" cy="386.20" r="0.6" fill="#ff00ff"/>
<circle cx="258.60" cy="446.40" r="5.35" fill="none" stroke="#ff00ff" stroke-width="1.3"/>
<circle cx="258.60" cy="446.40" r="0.6" fill="#ff00ff"/>
<circle cx="263.00" cy="493.20" r="5.35" fill="none" stroke="#ff00ff" stroke-width="1.3"/>
<circle cx="263.00" cy="493.20" r="0.6" fill="#ff00ff"/>
<polygon points="258.75,355.85 260.19,358.97 263.60,359.37 261.08,361.71 261.75,365.08 258.75,363.40 255.75,365.08 256.42,361.71 253.90,359.37 257.31,358.97" fill="none" stroke="#ff00ff" stroke-width="1.3" stroke-linejoin="round"/>
<text x="138.90" y="282.50" font-size="8.2" fill="#ff7f00" fill-opacity="0.85" textLength="44.50" lengthAdjust="spacingAndGlyphs">SDSS−MGS</text>
<text x="142.70" y="314.40" font-size="8.2" fill="#0000ff" fill-opacity="0.85" textLength="31.40" lengthAdjust="spacingAndGlyphs">2dFGRS</text>
<text x="101.70" y="334.00" font-size="8.2" fill="#b00000" fill-opacity="0.85" textLength="25.90" lengthAdjust="spacingAndGlyphs">6dFGS</text>
<text x="175.60" y="330.20" font-size="8.2" fill="#00ffff" fill-opacity="0.85" textLength="30.10" lengthAdjust="spacingAndGlyphs">WiggleZ</text>
<text x="213.60" y="330.40" font-size="8.2" fill="#ff0000" fill-opacity="0.85" textLength="29.50" lengthAdjust="spacingAndGlyphs">VIPERS</text>
<text x="239.40" y="344.10" font-size="8.2" fill="#ff0000" fill-opacity="0.85" textLength="31.00" lengthAdjust="spacingAndGlyphs">PRIMUS</text>
<text x="173.90" y="346.50" font-size="8.2" fill="#ff7f00" fill-opacity="0.85" textLength="22.30" lengthAdjust="spacingAndGlyphs">GAMA</text>
<text x="168.80" y="354.00" font-size="8.2" fill="#ff7f00" fill-opacity="0.85" textLength="42.70" lengthAdjust="spacingAndGlyphs">SDSS−LRG</text>
<text x="93.10" y="370.70" font-size="8.2" fill="#b00000" fill-opacity="0.85" textLength="21.50" lengthAdjust="spacingAndGlyphs">2MRS</text>
<text x="89.60" y="380.30" font-size="8.2" fill="#b00000" fill-opacity="0.85" textLength="20.10" lengthAdjust="spacingAndGlyphs">PSCz</text>
<text x="80.20" y="390.40" font-size="8.2" fill="#0000ff" fill-opacity="0.85" textLength="18.30" lengthAdjust="spacingAndGlyphs">CfA2</text>
<text x="80.50" y="405.80" font-size="8.2" fill="#0000ff" fill-opacity="0.85" textLength="25.60" lengthAdjust="spacingAndGlyphs">SSRS2</text>
<text x="133.40" y="367.10" font-size="8.2" fill="#ff7f00" fill-opacity="0.85" textLength="19.90" lengthAdjust="spacingAndGlyphs">LCRS</text>
<text x="142.60" y="415.80" font-size="8.2" fill="#0000ff" fill-opacity="0.85" textLength="14.60" lengthAdjust="spacingAndGlyphs">ESP</text>
<text x="100.10" y="423.90" font-size="8.2" fill="#0000ff" fill-opacity="0.85" textLength="22.40" lengthAdjust="spacingAndGlyphs">DURS</text>
<text x="101.90" y="432.20" font-size="8.2" fill="#0000ff" fill-opacity="0.85" textLength="21.80" lengthAdjust="spacingAndGlyphs">SAPM</text>
<text x="142.70" y="444.20" font-size="8.2" fill="#b00000" fill-opacity="0.85" textLength="27.40" lengthAdjust="spacingAndGlyphs">H−AAO</text>
<text x="224.40" y="355.10" font-size="8.2" fill="#ff7f00" fill-opacity="0.85" textLength="25.90" lengthAdjust="spacingAndGlyphs">DEEP2</text>
<text x="268.00" y="361.10" font-size="8.2" fill="#ff00ff" fill-opacity="0.85" textLength="21.30" lengthAdjust="spacingAndGlyphs">VVDS</text>
<text x="221.70" y="372.00" font-size="8.2" fill="#ff00ff" fill-opacity="0.85" textLength="45.50" lengthAdjust="spacingAndGlyphs">VVDS−Wide</text>
<text x="221.70" y="381.10" font-size="8.2" fill="#ff0000" fill-opacity="0.85" textLength="15.40" lengthAdjust="spacingAndGlyphs">zCB</text>
<text x="248.60" y="387.00" font-size="8.2" fill="#ff00ff" fill-opacity="0.85" textLength="46.70" lengthAdjust="spacingAndGlyphs">VVDS−Deep</text>
<text x="183.00" y="389.00" font-size="8.2" fill="#ff0000" fill-opacity="0.85" textLength="47.40" lengthAdjust="spacingAndGlyphs">2SLAQ−LRG</text>
<text x="173.90" y="400.80" font-size="8.2" fill="#ff7f00" fill-opacity="0.85" textLength="21.60" lengthAdjust="spacingAndGlyphs">AGES</text>
<text x="200.60" y="407.40" font-size="8.2" fill="#ff7f00" fill-opacity="0.85" textLength="26.60" lengthAdjust="spacingAndGlyphs">CNOC2</text>
<text x="243.90" y="421.90" font-size="8.2" fill="#ff0000" fill-opacity="0.85" textLength="15.20" lengthAdjust="spacingAndGlyphs">zCD</text>
<text x="186.50" y="433.80" font-size="8.2" fill="#0000ff" fill-opacity="0.85" textLength="30.50" lengthAdjust="spacingAndGlyphs">Autofib</text>
<text x="221.80" y="457.80" font-size="8.2" fill="#ff0000" fill-opacity="0.85" textLength="20.90" lengthAdjust="spacingAndGlyphs">CFRS</text>
<text x="262.80" y="446.90" font-size="8.2" fill="#ff00ff" fill-opacity="0.85" textLength="52.40" lengthAdjust="spacingAndGlyphs">VVDS−UDeep</text>
<text x="262.90" y="446.20" font-size="8.2" fill="#ff7f00" fill-opacity="0.85" textLength="31.10" lengthAdjust="spacingAndGlyphs">LBG−z3</text>
<text x="262.50" y="474.30" font-size="8.2" fill="#ff0000" fill-opacity="0.85" textLength="31.20" lengthAdjust="spacingAndGlyphs">LBG−z4</text>
<text x="266.40" y="493.90" font-size="8.2" fill="#ff00ff" fill-opacity="0.85" textLength="41.70" lengthAdjust="spacingAndGlyphs">VVDS−LAE</text>
<rect x="229.1" y="269.1" width="19.1" height="12.3" fill="#ff0000"/>
<text x="254.5" y="279.2" font-size="12.6" class="sans" textLength="36.0" lengthAdjust="spacingAndGlyphs">PAUS</text>
</svg></body></html>
